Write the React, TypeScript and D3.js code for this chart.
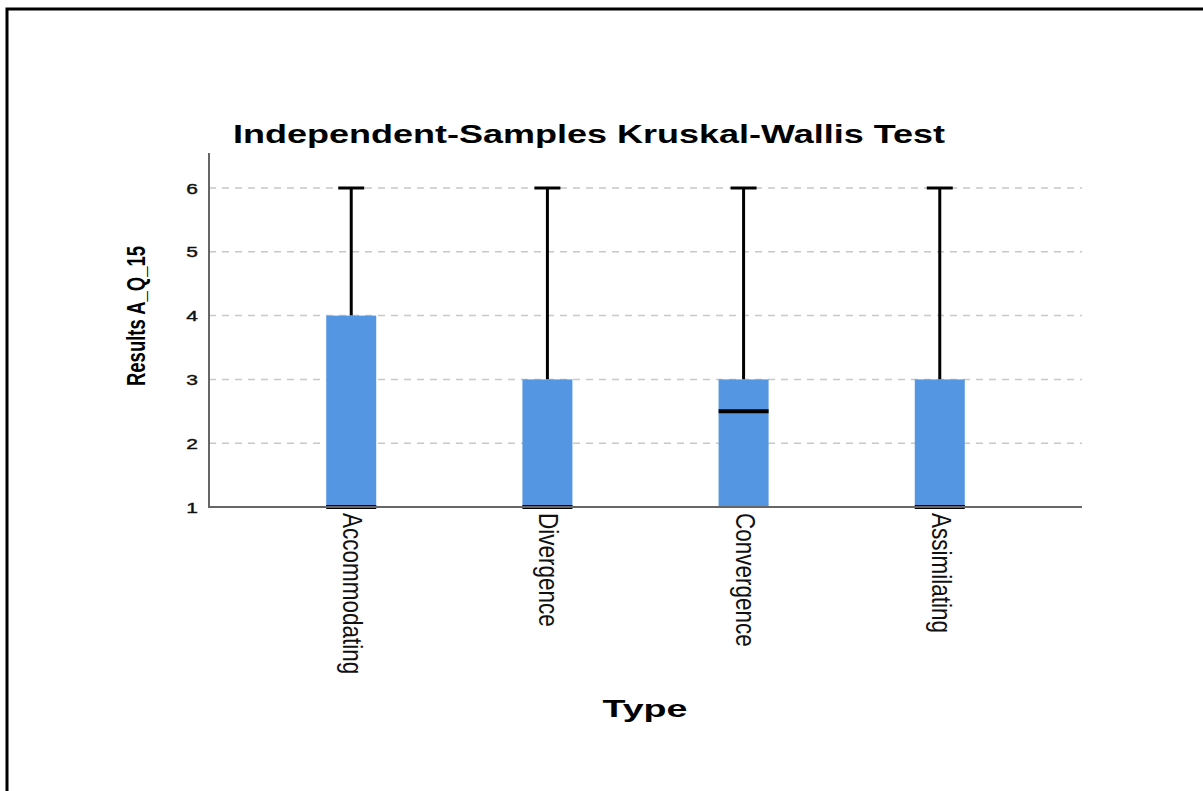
import * as d3 from "d3";
import { useRef, useEffect } from "react";

// box plot summaries
const types = ["Accommodating", "Divergence", "Convergence", "Assimilating"];
const mins = [1, 1, 1, 1];
const q1s = [1, 1, 1, 1];
const medians = [1, 1, 2.5, 1];
const q3s = [4, 3, 3, 3];
const maxs = [6, 6, 6, 6];
const yTicks = [1, 2, 3, 4, 5, 6];

const W = 1203;
const H = 791;
const left = 209;
const right = 1082;
const bottom = 507;
const stretch = 1.4;

export default function App() {
  const svgRef = useRef<SVGSVGElement>(null);

  useEffect(() => {
    const svg = d3.select(svgRef.current);
    svg.selectAll("*").remove();

    const y = d3.scaleLinear().domain([1, 6]).range([bottom, 188]);
    const x = d3.scalePoint().domain(types).range([left, right]).padding(0.725);
    const boxW = 50;
    const capW = 26;

    // frame
    svg.append("path")
      .attr("d", `M7,${H} V9 H${W}`)
      .attr("fill", "none")
      .attr("stroke", "#000")
      .attr("stroke-width", 3);

    // title
    svg.append("text")
      .attr("x", 589)
      .attr("y", 143)
      .attr("text-anchor", "middle")
      .attr("font-family", "Liberation Sans, Arial, sans-serif")
      .attr("font-weight", "bold")
      .attr("font-size", 25)
      .attr("textLength", 712)
      .attr("lengthAdjust", "spacingAndGlyphs")
      .text("Independent-Samples Kruskal-Wallis Test");

    // grid
    svg.append("g")
      .selectAll("line")
      .data(yTicks.filter(d => d > 1))
      .join("line")
      .attr("x1", left)
      .attr("x2", right)
      .attr("y1", d => y(d))
      .attr("y2", d => y(d))
      .attr("stroke", "#c8c8c8")
      .attr("stroke-width", 1.5)
      .attr("stroke-dasharray", "7,6");

    // y tick labels
    svg.append("g")
      .selectAll("text")
      .data(yTicks)
      .join("text")
      .attr("transform", d => `translate(198,${y(d) + 5.5}) scale(${stretch},1)`)
      .attr("text-anchor", "end")
      .attr("font-family", "Liberation Sans, Arial, sans-serif")
      .attr("font-size", 15)
      .attr("fill", "#111")
      .attr("stroke", "#111")
      .attr("stroke-width", 0.4)
      .text(d => d);

    const boxes = svg.append("g")
      .selectAll("g")
      .data(types)
      .join("g");

    // upper whiskers
    boxes.append("line")
      .attr("x1", d => x(d))
      .attr("x2", d => x(d))
      .attr("y1", (d, i) => y(q3s[i]))
      .attr("y2", (d, i) => y(maxs[i]))
      .attr("stroke", "#000")
      .attr("stroke-width", 3);
    boxes.append("line")
      .attr("x1", d => x(d) - capW / 2)
      .attr("x2", d => x(d) + capW / 2)
      .attr("y1", (d, i) => y(maxs[i]))
      .attr("y2", (d, i) => y(maxs[i]))
      .attr("stroke", "#000")
      .attr("stroke-width", 3);
    // lower whiskers (zero length here)
    boxes.append("line")
      .attr("x1", d => x(d))
      .attr("x2", d => x(d))
      .attr("y1", (d, i) => y(q1s[i]))
      .attr("y2", (d, i) => y(mins[i]))
      .attr("stroke", "#000")
      .attr("stroke-width", 3);

    boxes.append("rect")
      .attr("x", d => x(d) - boxW / 2)
      .attr("width", boxW)
      .attr("y", (d, i) => y(q3s[i]))
      .attr("height", (d, i) => y(q1s[i]) - y(q3s[i]))
      .attr("fill", "#5596e3");

    // axes
    svg.append("path")
      .attr("d", `M${left},${y(6.55)} V${bottom} H${right}`)
      .attr("fill", "none")
      .attr("stroke", "#666")
      .attr("stroke-width", 2);

    // medians
    boxes.append("line")
      .attr("x1", d => x(d) - boxW / 2)
      .attr("x2", d => x(d) + boxW / 2)
      .attr("y1", (d, i) => y(medians[i]))
      .attr("y2", (d, i) => y(medians[i]))
      .attr("stroke", "#000")
      .attr("stroke-width", 4);

    // category labels, rotated
    svg.append("g")
      .selectAll("text")
      .data(types)
      .join("text")
      .attr("transform", d => `translate(${x(d) - 8},513) scale(1.25,1) rotate(90)`)
      .attr("font-family", "Liberation Sans, Arial, sans-serif")
      .attr("font-size", 22.5)
      .attr("fill", "#111")
      .text(d => d);

    // axis titles
    svg.append("text")
      .attr("transform", `translate(145,316) scale(1.25,1) rotate(-90)`)
      .attr("text-anchor", "middle")
      .attr("font-family", "Liberation Sans, Arial, sans-serif")
      .attr("font-weight", "bold")
      .attr("font-size", 21)
      .attr("textLength", 140)
      .attr("lengthAdjust", "spacingAndGlyphs")
      .text("Results A_Q_15");

    svg.append("text")
      .attr("x", 645)
      .attr("y", 717)
      .attr("text-anchor", "middle")
      .attr("font-family", "Liberation Sans, Arial, sans-serif")
      .attr("font-weight", "bold")
      .attr("font-size", 23)
      .attr("textLength", 85)
      .attr("lengthAdjust", "spacingAndGlyphs")
      .text("Type");
  }, []);

  return (
    <svg
      ref={svgRef}
      width={W}
      height={H}
      style={{ position: "absolute", left: 0, top: 0, background: "#fff" }}
    />
  );
}
